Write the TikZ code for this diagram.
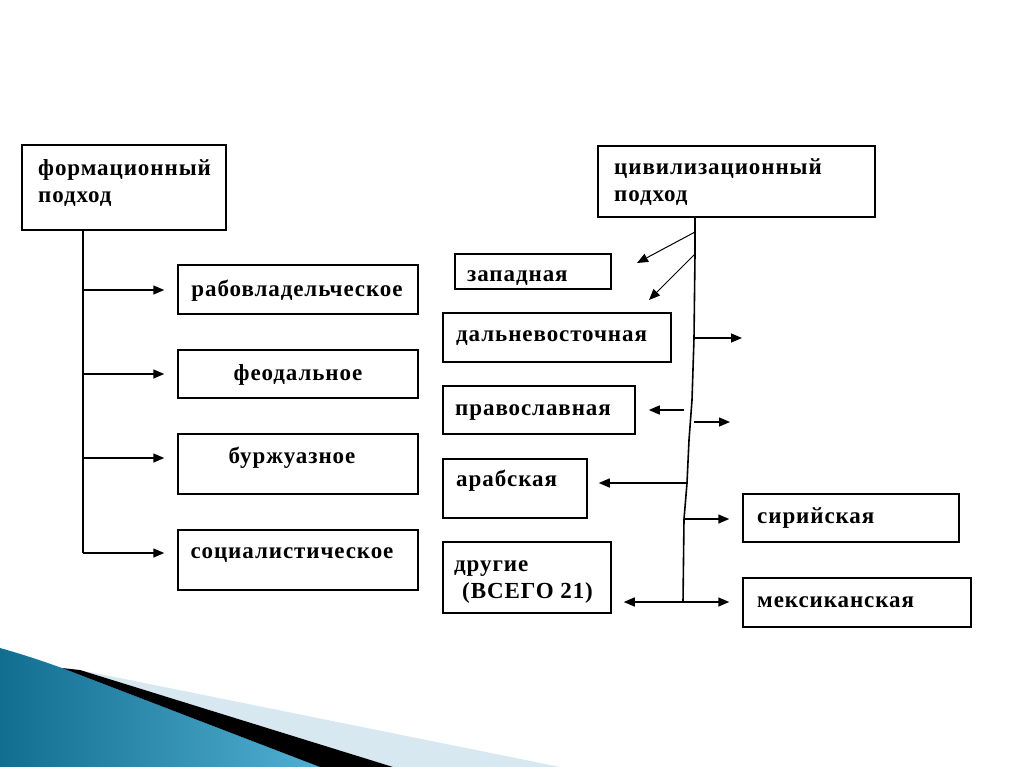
\documentclass[tikz,border=0pt]{standalone}
\usepackage{fontspec}
\setmainfont{Liberation Serif}[LetterSpace=4]
\usetikzlibrary{arrows.meta}
\definecolor{tealdark}{RGB}{18,110,145}
\definecolor{teallight}{RGB}{80,175,210}
\definecolor{paleblue}{RGB}{215,232,240}
\begin{document}
\begin{tikzpicture}[x=1pt,y=-1pt,
  box/.style={draw,line width=1.5pt,inner sep=0pt},
  txt/.style={anchor=base west,inner sep=0pt,font=\fontsize{23}{27}\selectfont\bfseries},
  ctxt/.style={anchor=base,inner sep=0pt,font=\fontsize{23}{27}\selectfont\bfseries},
  conn/.style={line width=1.6pt},
  arr/.style={line width=1.5pt,-{Triangle[length=11pt,width=9pt]}},
  darr/.style={line width=1pt,-{Triangle[length=11pt,width=9pt]}}]
\useasboundingbox (0,0) rectangle (1024,767);
% bottom decoration
\shade[left color=tealdark,right color=teallight]
  (0,648) .. controls (25,655) and (45,662) .. (62,668) -- (320,767) -- (0,767) -- cycle;
\fill[paleblue] (80,670) -- (560,767) -- (393,767) -- cycle;
\fill[black] (62,668) -- (80,670) -- (393,767) -- (320,767) -- cycle;
% left part
\node[box,minimum width=204pt,minimum height=85pt] (form) at (124,187.5) {};
\node[txt] (t1) at (38,176) {формационный};
\node[txt] (t2) at (38,203) {подход};
\node[box,minimum width=240pt,minimum height=49pt] (rab) at (298,289.5) {};
\node[ctxt] (t3) at (297,296) {рабовладельческое};
\node[box,minimum width=240pt,minimum height=48pt] (feo) at (298,374) {};
\node[ctxt] (t4) at (298,380) {феодальное};
\node[box,minimum width=240pt,minimum height=60pt] (bur) at (298,464) {};
\node[ctxt] (t5) at (292,463) {буржуазное};
\node[box,minimum width=240pt,minimum height=60pt] (soc) at (298,560) {};
\node[ctxt] (t6) at (292,558) {социалистическое};
\coordinate (ltop) at (83,230);
\coordinate (l1) at (83,290);
\coordinate (l2) at (83,374);
\coordinate (l3) at (83,458);
\coordinate (l4) at (83,553);
\draw[conn] (ltop) -- (l4);
\draw[arr,shorten >=13pt] (l1) -- (rab.west |- l1);
\draw[arr,shorten >=13pt] (l2) -- (feo.west |- l2);
\draw[arr,shorten >=13pt] (l3) -- (bur.west |- l3);
\draw[arr,shorten >=13pt] (l4) -- (soc.west |- l4);
% right part
\node[box,minimum width=277pt,minimum height=71pt] (civ) at (736.5,181.5) {};
\node[txt] (t7) at (614,175) {цивилизационный};
\node[txt] (t8) at (614,202) {подход};
\node[box,minimum width=156pt,minimum height=35pt] (zap) at (533,271.5) {};
\node[txt] (t9) at (467,281) {западная};
\node[box,minimum width=228pt,minimum height=49pt] (dal) at (557,337.5) {};
\node[txt] (t10) at (456,341) {дальневосточная};
\node[box,minimum width=192pt,minimum height=48pt] (pra) at (539,410) {};
\node[txt] (t11) at (455,415) {православная};
\node[box,minimum width=144pt,minimum height=59pt] (ara) at (515,488.5) {};
\node[txt] (t12) at (456,486) {арабская};
\node[box,minimum width=168pt,minimum height=71pt] (dru) at (527,577.5) {};
\node[txt] (t13) at (454,571) {другие};
\node[txt] (t14) at (462,598) {(ВСЕГО 21)};
\node[box,minimum width=216pt,minimum height=48pt] (sir) at (851,518) {};
\node[txt] (t15) at (757,523) {сирийская};
\node[box,minimum width=228pt,minimum height=49pt] (mex) at (857,602.5) {};
\node[txt] (t16) at (757,607) {мексиканская};
% trunk
\coordinate (r0) at (695,217);
\coordinate (ra) at (695,232);
\coordinate (rb) at (695,254);
\coordinate (rc) at (694,338);
\coordinate (rd) at (692,410);
\coordinate (re) at (694,422);
\coordinate (rf) at (687,483);
\coordinate (rg) at (684,519);
\coordinate (rh) at (683,602);
\draw[conn] (r0) -- (rb) -- (rc) -- (692,400) -- (689,440) -- (rf) -- (rg) -- (rh);
\coordinate (za) at (637,263);
\coordinate (zb) at (649,300);
\coordinate (xc) at (742,338);
\coordinate (xe) at (730,422);
\draw[darr] (ra) -- (za);
\draw[darr] (rb) -- (zb);
\draw[arr] (rc) -- (xc);
\draw[arr,shorten >=13pt] (684,410) -- (pra.east |- rd);
\draw[arr] (re) -- (xe);
\draw[arr,shorten >=11pt] (rf) -- (ara.east |- rf);
\draw[arr,shorten >=13pt] (rg) -- (sir.west |- rg);
\draw[arr,shorten >=13pt] (rh) -- (mex.west |- rh);
\draw[arr,shorten >=12pt] (rh) -- (dru.east |- rh);
\end{tikzpicture}
\end{document}
